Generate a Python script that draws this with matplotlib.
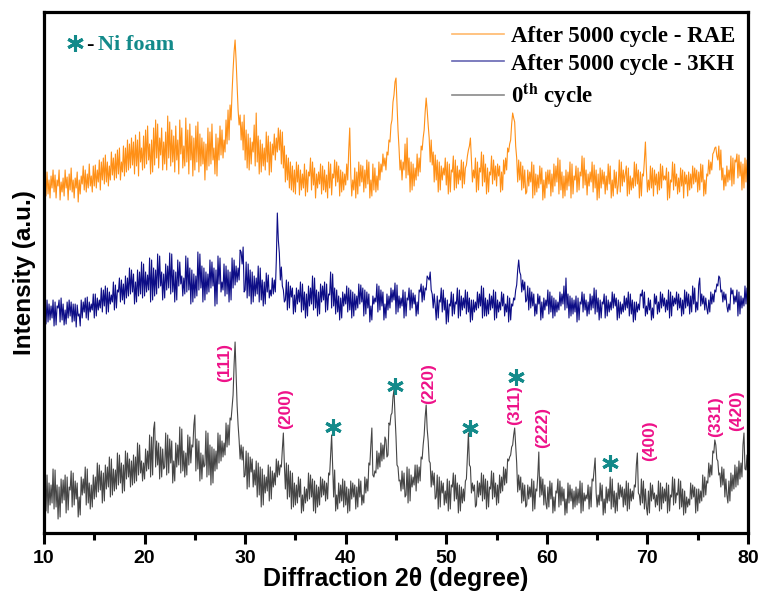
import numpy as np
import matplotlib
matplotlib.use("Agg")
import matplotlib.pyplot as plt
from matplotlib.ticker import MultipleLocator
from matplotlib.lines import Line2D

# ---------------- data ----------------
# Each row: one degree of 2theta (x.0 ... x.9), scan step 0.1 deg, starting at 10 deg.
scan_start, scan_step = 10.0, 0.1

rae_rows = [
    [20, 36, 14, 38, 16, 30, 12, 34, 22, 40],
    [18, 35, 12, 30, 24, 40, 10, 28, 18, 32],
    [14, 40, 22, 33, 10, 36, 20, 42, 18, 30],
    [12, 32, 22, 38, 8, 30, 16, 34, 26, 44],
    [20, 40, 18, 36, 22, 46, 24, 34, 18, 44],
    [24, 45, 22, 40, 28, 50, 20, 48, 30, 52],
    [26, 55, 28, 48, 24, 44, 30, 58, 35, 52],
    [30, 56, 32, 60, 36, 62, 30, 48, 38, 64],
    [34, 62, 38, 70, 40, 66, 42, 72, 45, 68],
    [36, 75, 44, 70, 34, 78, 48, 62, 40, 74],
    [42, 80, 46, 84, 50, 66, 36, 70, 38, 82],
    [45, 90, 52, 86, 42, 72, 55, 82, 40, 68],
    [46, 78, 40, 94, 52, 88, 44, 80, 48, 74],
    [38, 84, 50, 70, 36, 90, 56, 82, 42, 64],
    [44, 92, 48, 80, 36, 86, 50, 74, 34, 72],
    [40, 84, 48, 88, 38, 76, 44, 72, 46, 68],
    [30, 66, 40, 82, 44, 78, 46, 86, 50, 62],
    [36, 76, 34, 72, 50, 84, 55, 80, 52, 70],
    [58, 90, 66, 100, 70, 105, 90, 118, 140, 158],
    [170, 150, 125, 100, 85, 95, 70, 88, 60, 95],
    [50, 80, 42, 76, 40, 72, 46, 68, 58, 85],
    [44, 97, 48, 74, 36, 70, 38, 66, 44, 62],
    [40, 78, 48, 74, 35, 68, 38, 66, 55, 76],
    [50, 72, 58, 82, 60, 80, 46, 78, 42, 64],
    [28, 55, 30, 52, 22, 48, 20, 44, 18, 40],
    [16, 48, 28, 45, 15, 40, 20, 36, 22, 46],
    [14, 40, 18, 38, 34, 52, 20, 48, 25, 42],
    [12, 36, 22, 38, 26, 46, 16, 44, 20, 40],
    [18, 35, 12, 48, 22, 46, 15, 36, 32, 50],
    [24, 48, 28, 44, 14, 40, 18, 38, 20, 36],
    [25, 46, 30, 60, 82, 36, 14, 30, 20, 42],
    [12, 38, 16, 48, 24, 45, 28, 44, 18, 40],
    [22, 50, 26, 48, 12, 30, 14, 46, 20, 42],
    [18, 34, 20, 48, 30, 46, 38, 56, 44, 52],
    [40, 58, 55, 70, 68, 85, 90, 108, 115, 128],
    [132, 105, 80, 62, 40, 50, 30, 48, 40, 66],
    [32, 72, 35, 52, 18, 48, 20, 46, 24, 42],
    [30, 56, 34, 52, 38, 64, 60, 72, 80, 98],
    [112, 100, 85, 72, 48, 70, 45, 58, 28, 55],
    [30, 50, 18, 48, 20, 44, 30, 42, 35, 52],
    [25, 48, 16, 46, 18, 40, 38, 54, 20, 50],
    [22, 44, 26, 40, 30, 50, 22, 48, 26, 42],
    [45, 54, 60, 64, 72, 50, 28, 40, 32, 52],
    [18, 48, 20, 42, 38, 58, 24, 55, 28, 46],
    [16, 42, 18, 38, 35, 54, 26, 50, 30, 44],
    [24, 46, 34, 44, 18, 38, 20, 50, 36, 52],
    [40, 62, 58, 66, 70, 86, 97, 92, 88, 64],
    [52, 28, 50, 30, 48, 20, 44, 22, 40, 16],
    [18, 40, 24, 38, 28, 48, 12, 45, 15, 36],
    [18, 35, 22, 44, 26, 42, 10, 30, 12, 38],
    [22, 40, 26, 40, 14, 36, 18, 46, 24, 44],
    [28, 52, 16, 50, 20, 38, 12, 34, 14, 40],
    [20, 38, 24, 48, 12, 46, 16, 34, 30, 44],
    [18, 42, 20, 38, 34, 54, 22, 52, 25, 40],
    [15, 36, 24, 38, 28, 48, 18, 45, 22, 40],
    [10, 36, 12, 42, 22, 40, 26, 38, 16, 34],
    [20, 46, 26, 44, 12, 30, 14, 40, 22, 38],
    [16, 25, 50, 18, 48, 24, 40, 28, 36, 44],
    [14, 42, 16, 34, 20, 32, 22, 48, 24, 46],
    [26, 40, 12, 38, 14, 36, 34, 50, 68, 40],
    [18, 30, 20, 44, 22, 42, 14, 40, 25, 36],
    [16, 38, 20, 46, 22, 44, 30, 34, 30, 42],
    [10, 38, 12, 30, 28, 48, 20, 46, 24, 36],
    [16, 32, 18, 42, 24, 40, 12, 38, 26, 35],
    [14, 38, 20, 36, 22, 44, 26, 42, 28, 40],
    [18, 38, 20, 46, 28, 45, 14, 30, 16, 36],
    [34, 50, 36, 48, 40, 56, 58, 62, 63, 54],
    [50, 64, 40, 60, 30, 42, 20, 35, 24, 44],
    [28, 40, 30, 54, 24, 52, 26, 50, 48, 56],
    [32, 55, 34, 48, 20, 46, 22, 52, 28, 50],
    [30],
]

kh3_rows = [
    [15, 28, 6, 30, 8, 26, 10, 24, 12, 30],
    [4, 28, 5, 24, 22, 30, 8, 32, 10, 26],
    [5, 20, 6, 28, 12, 30, 14, 28, 8, 26],
    [9, 26, 3, 25, 14, 16, 4, 30, 12, 28],
    [18, 32, 12, 33, 10, 28, 18, 26, 20, 36],
    [12, 36, 14, 32, 20, 30, 22, 42, 18, 40],
    [24, 44, 16, 42, 18, 38, 26, 35, 28, 48],
    [20, 45, 22, 40, 38, 52, 28, 50, 30, 46],
    [26, 54, 32, 52, 34, 62, 36, 60, 38, 56],
    [26, 48, 28, 60, 34, 58, 36, 68, 32, 66],
    [34, 58, 38, 55, 40, 72, 28, 70, 30, 62],
    [34, 60, 36, 76, 42, 74, 44, 58, 30, 56],
    [32, 66, 40, 64, 42, 77, 36, 76, 38, 60],
    [28, 58, 30, 70, 44, 68, 46, 54, 34, 52],
    [36, 74, 38, 72, 40, 62, 26, 60, 28, 56],
    [32, 54, 34, 78, 40, 76, 42, 64, 28, 62],
    [30, 58, 36, 56, 38, 70, 42, 68, 44, 62],
    [24, 60, 26, 74, 46, 72, 38, 48, 40, 66],
    [34, 64, 36, 60, 28, 58, 30, 72, 42, 70],
    [45, 64, 48, 62, 50, 80, 78, 66, 83, 38],
    [40, 68, 32, 66, 34, 60, 26, 58, 28, 54],
    [34, 52, 36, 64, 28, 62, 30, 50, 24, 48],
    [26, 57, 38, 55, 32, 40, 34, 52, 36, 50],
    [38, 70, 117, 90, 77, 50, 63, 44, 40, 28],
    [30, 50, 20, 48, 22, 44, 33, 42, 16, 35],
    [18, 42, 26, 40, 28, 48, 18, 46, 20, 38],
    [12, 36, 14, 44, 24, 42, 26, 54, 20, 52],
    [22, 40, 14, 38, 16, 46, 28, 44, 30, 48],
    [18, 46, 20, 36, 35, 58, 22, 56, 24, 42],
    [16, 40, 18, 34, 10, 32, 12, 38, 24, 36],
    [26, 44, 18, 42, 20, 40, 12, 38, 14, 36],
    [20, 34, 22, 46, 26, 45, 28, 42, 14, 40],
    [16, 38, 22, 36, 8, 24, 10, 34, 26, 32],
    [28, 46, 18, 44, 20, 40, 24, 38, 10, 26],
    [12, 36, 20, 34, 22, 42, 28, 40, 30, 47],
    [16, 45, 18, 34, 22, 32, 24, 40, 12, 38],
    [14, 32, 30, 42, 20, 40, 22, 37, 26, 35],
    [14, 28, 16, 40, 38, 46, 28, 44, 30, 42],
    [40, 54, 52, 50, 58, 40, 36, 22, 36, 24],
    [10, 34, 12, 30, 28, 42, 18, 40, 20, 32],
    [6, 30, 8, 26, 24, 38, 14, 36, 16, 28],
    [26, 42, 12, 40, 14, 34, 20, 32, 22, 40],
    [16, 38, 18, 32, 8, 30, 10, 30, 18, 28],
    [20, 38, 22, 36, 24, 44, 12, 42, 14, 32],
    [14, 30, 16, 36, 20, 34, 22, 40, 10, 38],
    [12, 30, 18, 28, 20, 38, 24, 36, 14, 26],
    [18, 34, 8, 32, 10, 26, 24, 32, 30, 40],
    [45, 60, 70, 58, 55, 38, 50, 40, 48, 28],
    [30, 44, 20, 42, 22, 38, 24, 36, 14, 26],
    [16, 36, 26, 34, 10, 28, 12, 32, 20, 30],
    [24, 40, 16, 38, 18, 34, 12, 32, 14, 30],
    [18, 28, 20, 38, 24, 36, 26, 44, 20, 52],
    [22, 36, 12, 34, 14, 32, 16, 30, 18, 34],
    [8, 32, 10, 28, 26, 38, 18, 36, 20, 30],
    [14, 28, 16, 36, 20, 34, 22, 42, 16, 40],
    [18, 32, 10, 30, 12, 28, 26, 36, 12, 34],
    [14, 30, 18, 28, 20, 38, 22, 36, 24, 32],
    [10, 30, 12, 28, 16, 26, 18, 34, 20, 32],
    [22, 38, 14, 36, 16, 30, 8, 28, 10, 28],
    [18, 26, 20, 36, 34, 40, 22, 38, 14, 24],
    [16, 32, 20, 30, 10, 22, 12, 36, 26, 34],
    [16, 28, 18, 38, 22, 36, 24, 32, 18, 30],
    [20, 40, 12, 38, 14, 34, 24, 32, 26, 38],
    [20, 36, 22, 32, 14, 30, 16, 40, 22, 38],
    [24, 36, 16, 34, 18, 44, 26, 42, 18, 28],
    [20, 45, 52, 24, 36, 26, 34, 20, 32, 22],
    [16, 30, 18, 38, 26, 36, 28, 40, 38, 46],
    [44, 54, 52, 38, 40, 28, 38, 30, 36, 24],
    [18, 26, 20, 42, 36, 40, 26, 34, 28, 40],
    [14, 38, 16, 34, 22, 32, 24, 44, 26, 42],
    [30],
]

cycle0_rows = [
    [30, 52, 14, 50, 12, 42, 20, 40, 22, 56],
    [16, 55, 18, 40, 6, 38, 8, 46, 22, 45],
    [25, 50, 12, 48, 15, 38, 35, 54, 18, 52],
    [20, 44, 26, 42, 8, 28, 10, 48, 30, 46],
    [32, 58, 20, 56, 22, 42, 16, 40, 18, 50],
    [26, 48, 28, 62, 33, 60, 35, 54, 22, 52],
    [24, 60, 36, 58, 38, 68, 28, 66, 30, 56],
    [34, 55, 36, 72, 40, 70, 42, 62, 32, 60],
    [34, 74, 46, 72, 48, 66, 38, 64, 40, 70],
    [42, 68, 44, 82, 50, 80, 52, 64, 44, 62],
    [46, 76, 54, 74, 56, 90, 48, 88, 50, 96],
    [103, 58, 84, 60, 82, 46, 78, 48, 76, 56],
    [58, 92, 50, 90, 52, 86, 62, 84, 42, 64],
    [44, 82, 58, 80, 60, 98, 52, 96, 54, 74],
    [48, 72, 50, 90, 60, 88, 62, 80, 78, 100],
    [110, 54, 86, 56, 84, 44, 72, 46, 70, 58],
    [60, 94, 48, 92, 50, 80, 40, 78, 42, 76],
    [54, 74, 56, 92, 62, 90, 64, 84, 68, 82],
    [70, 102, 78, 100, 80, 107, 105, 118, 130, 160],
    [183, 150, 120, 100, 85, 66, 80, 65, 78, 48],
    [50, 74, 36, 72, 38, 68, 53, 66, 38, 55],
    [40, 64, 28, 62, 30, 58, 18, 56, 20, 50],
    [32, 48, 34, 60, 24, 58, 26, 54, 38, 52],
    [40, 66, 48, 64, 50, 60, 58, 76, 92, 60],
    [36, 62, 26, 60, 28, 54, 16, 52, 18, 42],
    [20, 40, 22, 48, 28, 46, 12, 30, 14, 38],
    [22, 36, 24, 52, 26, 50, 28, 46, 14, 44],
    [12, 40, 18, 38, 20, 48, 28, 46, 30, 44],
    [24, 42, 26, 52, 50, 70, 90, 58, 28, 55],
    [14, 30, 16, 42, 22, 40, 24, 46, 18, 44],
    [20, 38, 12, 36, 14, 44, 26, 42, 28, 40],
    [16, 38, 18, 46, 28, 44, 20, 30, 22, 48],
    [32, 46, 34, 62, 60, 80, 97, 50, 48, 54],
    [52, 74, 56, 72, 58, 82, 64, 80, 66, 88],
    [85, 68, 70, 102, 100, 110, 112, 128, 135, 110],
    [88, 60, 58, 44, 45, 34, 54, 36, 52, 28],
    [30, 58, 22, 56, 24, 50, 38, 48, 40, 60],
    [34, 60, 42, 58, 44, 68, 66, 80, 90, 108],
    [120, 96, 84, 64, 62, 38, 54, 40, 52, 26],
    [28, 50, 16, 48, 18, 44, 32, 42, 20, 34],
    [22, 46, 14, 44, 16, 40, 38, 52, 24, 50],
    [26, 42, 12, 40, 14, 38, 22, 36, 24, 44],
    [46, 70, 92, 60, 58, 32, 42, 34, 40, 18],
    [20, 44, 28, 42, 30, 52, 24, 50, 26, 46],
    [16, 44, 18, 38, 36, 54, 26, 52, 28, 42],
    [20, 40, 22, 50, 32, 48, 34, 58, 40, 56],
    [42, 66, 64, 68, 70, 78, 80, 90, 97, 80],
    [62, 33, 50, 35, 48, 22, 42, 24, 40, 18],
    [20, 40, 26, 38, 28, 46, 14, 44, 16, 36],
    [34, 50, 73, 28, 48, 30, 46, 20, 40, 22],
    [16, 38, 18, 44, 26, 42, 12, 28, 14, 34],
    [32, 46, 18, 44, 20, 38, 24, 36, 10, 26],
    [12, 42, 22, 40, 24, 36, 16, 34, 18, 38],
    [20, 36, 22, 44, 12, 42, 14, 32, 24, 30],
    [26, 40, 16, 38, 18, 46, 44, 56, 67, 32],
    [18, 30, 20, 42, 24, 40, 10, 26, 12, 38],
    [22, 36, 24, 48, 16, 46, 18, 34, 12, 32],
    [14, 42, 26, 40, 28, 38, 18, 36, 20, 44],
    [14, 42, 16, 36, 24, 34, 26, 40, 38, 60],
    [72, 32, 30, 20, 46, 22, 44, 16, 36, 18],
    [10, 34, 12, 42, 24, 40, 26, 32, 18, 30],
    [20, 44, 14, 42, 16, 38, 22, 36, 24, 42],
    [12, 40, 14, 30, 28, 48, 20, 46, 22, 32],
    [30, 46, 16, 44, 18, 36, 10, 34, 12, 28],
    [18, 26, 20, 42, 26, 40, 28, 38, 12, 36],
    [14, 36, 22, 34, 24, 50, 28, 48, 30, 44],
    [42, 62, 48, 60, 50, 74, 72, 85, 80, 66],
    [64, 50, 52, 38, 58, 40, 56, 28, 46, 30],
    [22, 44, 24, 52, 34, 50, 36, 60, 38, 58],
    [40, 64, 46, 62, 48, 80, 92, 56, 55, 70],
    [40],
]

series_labels = ["After 5000 cycle - RAE", "After 5000 cycle - 3KH", "0$^{\\mathbf{th}}$ cycle"]

# hkl reflections (2theta, label height on 0th-cycle scale)
hkl_labels = ["(111)", "(200)", "(220)", "(311)", "(222)", "(400)", "(331)", "(420)"]
hkl_pos = [28.0, 34.0, 48.2, 56.8, 59.6, 70.2, 76.8, 78.9]
hkl_height = [162, 116, 141, 120, 98, 84, 108, 114]

# Ni foam reflections
ni_pos = [38.7, 44.9, 52.4, 56.9, 66.3]
ni_height = [98, 139, 97, 148, 62]

# ---------------- style ----------------
offsets = [323, 203, 8]
colors = ["#FF8A0A", "#000080", "#3C3C3C"]
teal = "#138A8A"
pink = "#EE1289"


def flatten(rows):
    xs, ys = [], []
    for i, row in enumerate(rows):
        for j, v in enumerate(row):
            xs.append(scan_start + i + j * scan_step)
            ys.append(v)
    return np.array(xs), np.array(ys, dtype=float)


W, H = 762, 601
fig = plt.figure(figsize=(W / 100, H / 100), dpi=100)
fig.patch.set_facecolor("white")
ax = fig.add_axes([44 / W, 1 - 533 / H, 704 / W, 521 / H])

for rows, off, c in zip([rae_rows, kh3_rows, cycle0_rows], offsets, colors):
    xs, ys = flatten(rows)
    ax.plot(xs, ys + off, color=c, lw=0.8, alpha=0.95)

ax.set_xlim(10, 80)
ax.set_ylim(0, 521)

for lab, px, hy in zip(hkl_labels, hkl_pos, hkl_height):
    ax.text(px, hy + offsets[2], lab, rotation=90, ha="center", va="center",
            color=pink, fontsize=12.5, fontweight="bold", family="Liberation Sans")

ax.plot(ni_pos, np.array(ni_height) + offsets[2], ls="", marker=(6, 2, 0),
        ms=12, mew=2.2, color=teal)

# spines / ticks
for s in ax.spines.values():
    s.set_linewidth(2.3)
ax.set_yticks([])
ax.xaxis.set_major_locator(MultipleLocator(10))
ax.xaxis.set_minor_locator(MultipleLocator(5))
ax.tick_params(axis="x", which="major", direction="out", length=8, width=2.2, pad=4)
ax.tick_params(axis="x", which="minor", direction="out", length=5, width=2.2)
for t in ax.get_xticklabels():
    t.set_family("Liberation Sans")
    t.set_fontweight("bold")
    t.set_fontsize(14)

ax.set_xlabel("Diffraction 2\u03b8 (degree)", family="Liberation Sans",
              fontweight="bold", fontsize=18, labelpad=0)
ax.set_ylabel("Intensity (a.u.)", family="Liberation Sans", fontweight="bold",
              fontsize=17.5, labelpad=6)

# legend
plt.rcParams["mathtext.fontset"] = "stix"
handles = [Line2D([], [], color=c, lw=1.2, alpha=0.6) for c in colors]
leg = ax.legend(handles, series_labels, loc="upper left", bbox_to_anchor=(0.571, 0.985),
                frameon=False, handlelength=2.3, handletextpad=0.3, labelspacing=0.3,
                borderaxespad=0.0, borderpad=0.25,
                prop={"family": "Liberation Serif", "weight": "bold", "size": 16.5})

# "* - Ni foam" note
fig.add_artist(Line2D([75 / W], [1 - 43 / H], ls="", marker=(6, 2, 0), ms=12, mew=2.2,
                      color=teal, transform=fig.transFigure))
fig.text(86 / W, 1 - 50 / H, "-", color="black", fontsize=16, fontweight="bold",
         family="Liberation Serif", va="baseline")
fig.text(98 / W, 1 - 50 / H, "Ni foam", color=teal, fontsize=16, fontweight="bold",
         family="Liberation Serif", va="baseline")

fig.savefig("out.png", dpi=100)
